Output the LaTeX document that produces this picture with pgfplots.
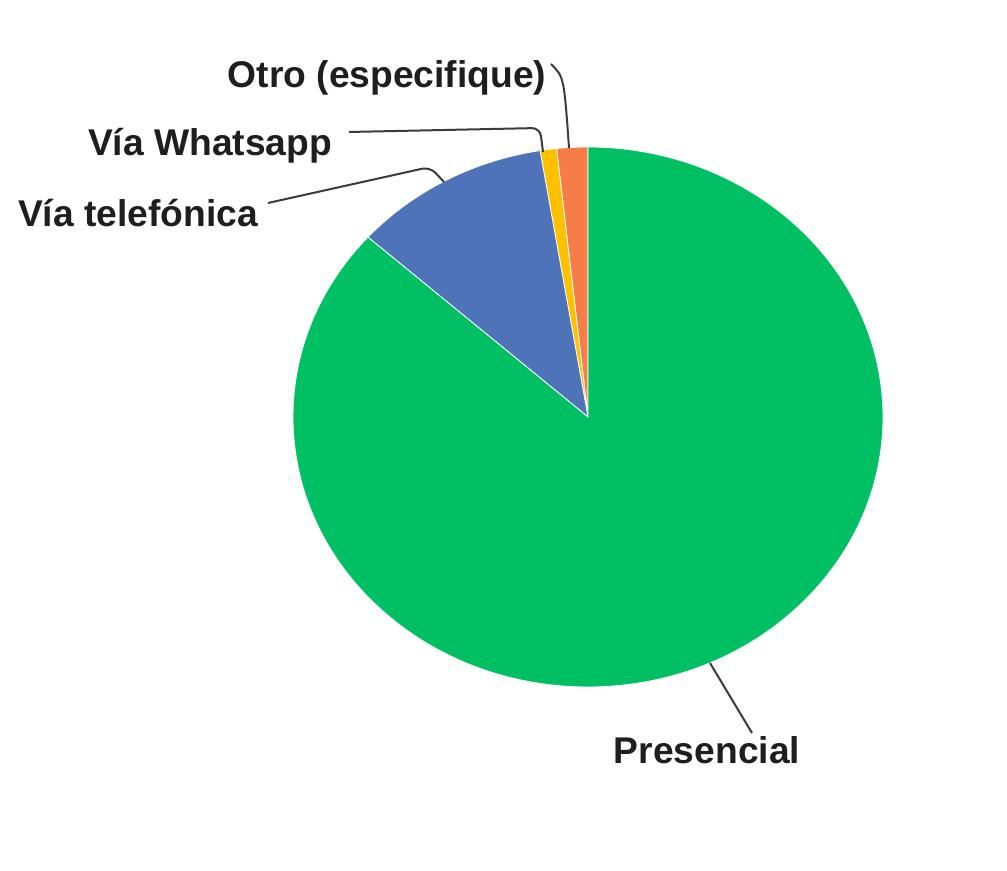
\documentclass[border=0pt]{standalone}
\usepackage{fontspec}
\setmainfont{Liberation Sans}
\usepackage{pgfplots}
\usepackage{pgfplotstable}
\pgfplotsset{compat=1.18}

\definecolor{cPres}{RGB}{0,192,99}
\definecolor{cTel}{RGB}{78,115,184}
\definecolor{cWa}{RGB}{255,192,0}
\definecolor{cOtro}{RGB}{246,124,72}
\definecolor{cLine}{RGB}{60,60,60}
\definecolor{cText}{RGB}{30,30,30}

% shares in percent
\pgfplotstableread{
label value
Presencial 86.6
Telefonica 10.8
Whatsapp 0.9
Otro 1.7
}\piedata

\begin{document}
\begin{tikzpicture}
\useasboundingbox (0,0) rectangle (503.5pt,435.5pt);

\pgfplotstablegetelem{0}{value}\of\piedata \let\vPres\pgfplotsretval
\pgfplotstablegetelem{1}{value}\of\piedata \let\vTel\pgfplotsretval
\pgfplotstablegetelem{2}{value}\of\piedata \let\vWa\pgfplotsretval
\pgfplotstablegetelem{3}{value}\of\piedata \let\vOtro\pgfplotsretval
\pgfmathsetmacro\aA{90+3.6*\vOtro}
\pgfmathsetmacro\aB{\aA+3.6*\vWa}
\pgfmathsetmacro\aC{\aB+3.6*\vTel}
\pgfmathsetmacro\aD{\aC+3.6*\vPres}

\begin{axis}[
    at={(294pt,227pt)}, anchor=center,
    scale only axis, width=295pt, height=270pt,
    xmin=-1, xmax=1, ymin=-1, ymax=1,
    hide axis, clip=false,
]
\addplot[draw=none] coordinates {(0,0)};
\fill[cOtro, draw=white, line width=0.4pt] (axis cs:0,0) -- (axis cs:{cos(90)},{sin(90)})
    arc[start angle=90, end angle=\aA, x radius=147.5pt, y radius=135pt] -- cycle;
\fill[cWa, draw=white, line width=0.4pt] (axis cs:0,0) -- (axis cs:{cos(\aA)},{sin(\aA)})
    arc[start angle=\aA, end angle=\aB, x radius=147.5pt, y radius=135pt] -- cycle;
\fill[cTel, draw=white, line width=0.4pt] (axis cs:0,0) -- (axis cs:{cos(\aB)},{sin(\aB)})
    arc[start angle=\aB, end angle=\aC, x radius=147.5pt, y radius=135pt] -- cycle;
\fill[cPres, draw=white, line width=0.4pt] (axis cs:0,0) -- (axis cs:{cos(\aC)},{sin(\aC)})
    arc[start angle=\aC, end angle=\aD, x radius=147.5pt, y radius=135pt] -- cycle;
\end{axis}

% labels and leader lines
\begin{scope}[font=\fontsize{18.6}{22}\selectfont\bfseries, text=cText]
\node at (353.5pt,60.5pt) {Presencial};
\node at (193.5pt,396.5pt) {Otro (especifique)};
\node at (105pt,362.5pt) {Vía Whatsapp};
\node at (69pt,329pt) {Vía telefónica};
\end{scope}
\begin{scope}[draw=cLine, line width=1pt]
\draw (355pt,104pt) -- (376pt,69pt);
\draw (275.5pt,403.5pt) .. controls (282pt,397pt) .. (284.5pt,361.5pt);
\draw[rounded corners=4pt] (174.5pt,369.5pt) -- (270pt,371.5pt) -- (271.5pt,359.5pt);
\draw[rounded corners=4pt] (134pt,334pt) -- (215pt,352pt) -- (222pt,344.5pt);
\end{scope}
\end{tikzpicture}
\end{document}
